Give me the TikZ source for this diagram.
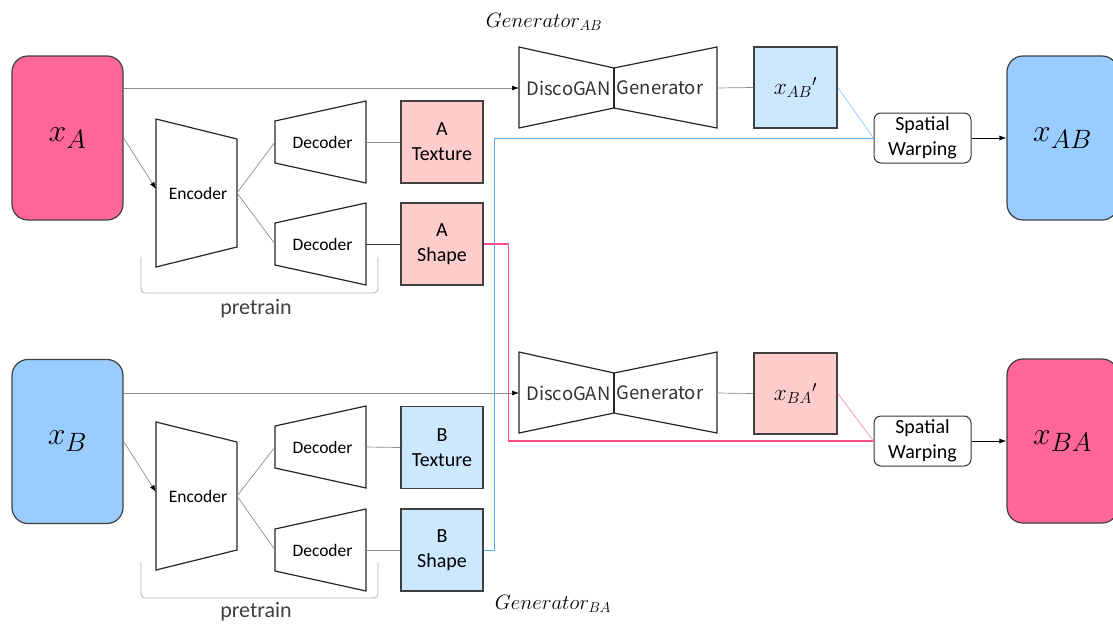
\documentclass[tikz,border=0pt]{standalone}
\usepackage{fontspec}
\setmainfont{Carlito}
\newfontfamily\jpfont{Noto Sans CJK JP}
\usetikzlibrary{arrows.meta}
\definecolor{pinkA}{HTML}{FF6699}
\definecolor{pinkL}{HTML}{FFCCCC}
\definecolor{blueB}{HTML}{99CCFF}
\definecolor{blueL}{HTML}{CCE8FF}
\definecolor{blueLine}{HTML}{55AAEE}
\definecolor{blueLineL}{HTML}{99CCFF}
\definecolor{pinkLine}{HTML}{FF4F8B}
\definecolor{pinkLineL}{HTML}{FF99BB}
\definecolor{edge}{HTML}{404040}
\definecolor{conn}{HTML}{8C8C8C}
\tikzset{
 encshape/.pic={\draw[shapeline] (-40.5,-74)--(40.5,-54)--(40.5,54)--(-40.5,74)--cycle;},
 decshape/.pic={\draw[shapeline] (-45.5,-21)--(45.5,-41)--(45.5,41)--(-45.5,21)--cycle;},
 genshape/.pic={\draw[shapeline] (-95,-41)--(0,-20)--(103,-41)--(103,40)--(0,20)--(-95,40)--cycle;
                \draw[shapeline] (0,-20)--(0,20);}
}
\newcommand\bigmath[1]{\scalebox{1.28}{$#1$}}
\newcommand\midmath[1]{\scalebox{1.12}{$#1$}}
\begin{document}
\begin{tikzpicture}[x=1pt,y=-1pt,
 bigbox/.style={draw=edge, line width=1.2pt, rounded corners=16pt, minimum width=111pt, minimum height=164pt, inner sep=0pt, font=\fontsize{24.88}{28}\selectfont},
 sqbox/.style={draw=edge, line width=1.5pt, minimum width=82pt, minimum height=82pt, inner sep=0pt, align=center, font=\fontsize{20}{25}\selectfont},
 warpbox/.style={draw=black!80, line width=1pt, rounded corners=7pt, minimum width=97pt, minimum height=50pt, inner sep=0pt, align=center, font=\fontsize{20}{25}\selectfont},
 shapeline/.style={draw=black!85, line width=1.2pt, line join=miter},
 lbl/.style={inner sep=0pt, font=\fontsize{17.5}{20}\selectfont},
 genlbl/.style={inner sep=0pt, font=\jpfont\fontsize{18.5}{22}\selectfont, text=black!80},
 wire/.style={draw=conn, line width=0.7pt},
 darkwire/.style={draw=black!80, line width=0.8pt},
 arr/.style={-{Latex[length=7pt,width=5pt,color=black]}},
 brace/.style={draw=black!30, line width=0.8pt, rounded corners=4pt},
 pre/.style={inner sep=0pt, text=black!75, font=\fontsize{22}{24}\selectfont},
 mlbl/.style={inner sep=0pt, font=\fontsize{20.74}{24}\selectfont}
]
\useasboundingbox (0,0) rectangle (1113,624);
\clip (0,0) rectangle (1113,624);

% ===== big input/output boxes
\node[bigbox, fill=pinkA] (xA) at (67.5,138) {\bigmath{x_A}};
\node[bigbox, fill=blueB] (xB) at (67.5,441.5) {\bigmath{x_B}};
\node[bigbox, fill=blueB] (xAB) at (1062.5,138) {\bigmath{x_{AB}}};
\node[bigbox, fill=pinkA] (xBA) at (1062.5,441) {\bigmath{x_{BA}}};

% ===== A branch
\pic at (196.5,193) {encshape};
\node[lbl] (encA) at (198,193) {Encoder};
\coordinate (encAin) at (156,189);
\coordinate (encAout) at (237,193);
\pic at (320.5,142) {decshape};
\node[lbl] (decA1) at (322.5,142) {Decoder};
\coordinate (decA1in) at (275,142);
\coordinate (decA1out) at (366,142);
\pic at (320.5,244) {decshape};
\node[lbl] (decA2) at (322.5,244) {Decoder};
\coordinate (decA2in) at (275,244);
\coordinate (decA2out) at (366,244);
\node[sqbox, fill=pinkL] (texA) at (442,142) {A\\Texture};
\node[sqbox, fill=pinkL] (shpA) at (442,244) {A\\Shape};
\draw[brace] (141,257) |- (259.5,293) -| (378,257);
\node[pre] (preA) at (256,309) {pretrain};

% ===== B branch
\pic at (196.5,496) {encshape};
\node[lbl] (encB) at (198,496) {Encoder};
\coordinate (encBin) at (156,492);
\coordinate (encBout) at (237,496);
\pic at (320.5,447) {decshape};
\node[lbl] (decB1) at (322.5,447) {Decoder};
\coordinate (decB1in) at (275,447);
\coordinate (decB1out) at (366,447);
\pic at (320.5,550) {decshape};
\node[lbl] (decB2) at (322.5,550) {Decoder};
\coordinate (decB2in) at (275,550);
\coordinate (decB2out) at (366,550);
\node[sqbox, fill=blueL] (texB) at (442,447.5) {B\\Texture};
\node[sqbox, fill=blueL] (shpB) at (442,550) {B\\Shape};
\draw[brace] (141,562) |- (259.5,598) -| (378,562);
\node[pre] (preB) at (256,612) {pretrain};

% ===== generators
\node[mlbl] (gABlbl) at (544,22) {$Generator_{AB}$};
\pic at (614,88) {genshape};
\node[genlbl] (discoAB) at (568.5,88) {DiscoGAN};
\node[genlbl] (genAB) at (660,88) {Generator};
\coordinate (gABin) at (519,88);
\coordinate (gABout) at (717,88);

\node[mlbl] (gBAlbl) at (553,604) {$Generator_{BA}$};
\pic at (614,393) {genshape};
\node[genlbl] (discoBA) at (568.5,393) {DiscoGAN};
\node[genlbl] (genBA) at (660,393) {Generator};
\coordinate (gBAin) at (519,393);
\coordinate (gBAout) at (717,393);

\node[sqbox, fill=blueL, minimum height=81pt, minimum width=83pt, font=\fontsize{20.74}{24}\selectfont] (xABp) at (795.5,87.5) {\midmath{x_{AB}{}'}};
\node[sqbox, fill=pinkL, minimum height=81pt, minimum width=83pt, font=\fontsize{20.74}{24}\selectfont] (xBAp) at (795.5,393.5) {\midmath{x_{BA}{}'}};

\node[warpbox, fill=white] (swAB) at (922.5,138) {Spatial\\Warping};
\node[warpbox, fill=white] (swBA) at (922.5,441) {Spatial\\Warping};

% ===== connectors
\draw[wire, arr] (xA.east |- gABin) -- (gABin);
\draw[wire, arr] (xB.east |- gBAin) -- (gBAin);
\draw[wire, arr] (xA.east) -- (encAin);
\draw[wire, arr] (xB.east) -- (encBin);
\draw[wire] (encAout) -- (decA1in);
\draw[wire] (encAout) -- (decA2in);
\draw[wire] (encBout) -- (decB1in);
\draw[wire] (encBout) -- (decB2in);
\draw[wire] (decA1out) -- (texA.west);
\draw[darkwire] (decA2out) -- (shpA.west);
\draw[wire] (decB1out) -- (texB.west);
\draw[wire] (decB2out) -- (shpB.west);
\draw[wire] (gABout) -- (xABp.west);
\draw[wire] (gBAout) -- (xBAp.west);

\draw[draw=blueLine, line width=1pt] (shpB.east) -- ++(11,0) |- (swAB.west);
\draw[draw=pinkLine, line width=1.2pt] (shpA.east) -- ++(25,0) |- (swBA.west);
\draw[draw=blueLineL, line width=0.8pt] (xABp.east) -- (swAB.west);
\draw[draw=pinkLineL, line width=0.8pt] (xBAp.east) -- (swBA.west);

\draw[draw=black, line width=0.8pt, arr] (swAB.east) -- (xAB.west);
\draw[draw=black, line width=0.8pt, arr] (swBA.east) -- (xBA.west);
\end{tikzpicture}
\end{document}
